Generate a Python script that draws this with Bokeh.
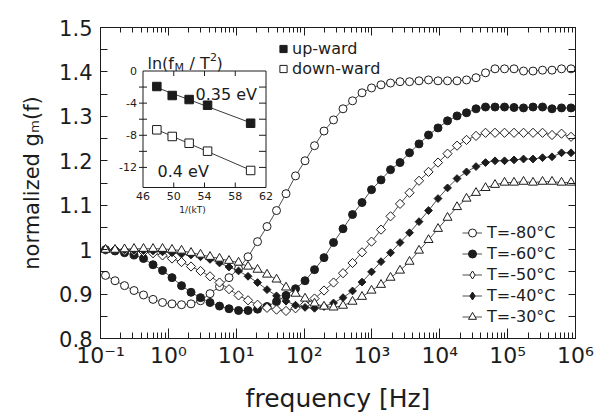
import numpy as np
from bokeh.plotting import figure
from bokeh.models import (Range1d, LinearAxis, LogAxis, LinearScale, FixedTicker, Legend, LegendItem,
                          Label, CustomJSTickFormatter)
from bokeh.embed import file_html
from bokeh.resources import INLINE
from bokeh.core.properties import value

# ---------------- data ----------------
freq_hz = np.logspace(-0.926, 5.934, 50)   # measurement sweep (log spaced)

gm_m80 = [0.942, 0.930, 0.919, 0.908, 0.898, 0.888, 0.881, 0.878, 0.876, 0.878,
          0.885, 0.901, 0.917, 0.937, 0.957, 0.984, 1.018, 1.052, 1.088, 1.126,
          1.166, 1.200, 1.234, 1.267, 1.292, 1.317, 1.335, 1.353, 1.364, 1.371,
          1.375, 1.378, 1.378, 1.380, 1.382, 1.380, 1.380, 1.380, 1.382, 1.387,
          1.398, 1.407, 1.407, 1.407, 1.402, 1.402, 1.404, 1.404, 1.407, 1.407]
gm_m60 = [1.000, 0.997, 0.993, 0.988, 0.980, 0.966, 0.953, 0.937, 0.919, 0.904,
          0.892, 0.881, 0.873, 0.867, 0.863, 0.863, 0.866, 0.872, 0.883, 0.897,
          0.912, 0.930, 0.955, 0.982, 1.016, 1.047, 1.079, 1.106, 1.135, 1.157,
          1.180, 1.196, 1.218, 1.238, 1.258, 1.274, 1.290, 1.301, 1.308, 1.317,
          1.321, 1.321, 1.321, 1.320, 1.319, 1.321, 1.321, 1.317, 1.319, 1.319]
gm_m50 = [1.000, 1.000, 0.998, 0.997, 0.995, 0.992, 0.987, 0.980, 0.972, 0.962,
          0.952, 0.940, 0.926, 0.911, 0.897, 0.886, 0.876, 0.869, 0.865, 0.862,
          0.868, 0.876, 0.890, 0.908, 0.926, 0.947, 0.970, 0.994, 1.018, 1.045,
          1.075, 1.103, 1.128, 1.155, 1.175, 1.196, 1.216, 1.234, 1.247, 1.256,
          1.263, 1.263, 1.263, 1.263, 1.263, 1.263, 1.263, 1.258, 1.261, 1.254]
gm_m40 = [1.000, 1.000, 1.000, 0.999, 0.998, 0.997, 0.995, 0.993, 0.990, 0.988,
          0.984, 0.978, 0.970, 0.961, 0.952, 0.940, 0.926, 0.910, 0.896, 0.884,
          0.875, 0.870, 0.868, 0.872, 0.880, 0.892, 0.907, 0.927, 0.950, 0.973,
          0.993, 1.016, 1.038, 1.063, 1.088, 1.115, 1.139, 1.160, 1.175, 1.187,
          1.196, 1.200, 1.200, 1.202, 1.204, 1.204, 1.207, 1.209, 1.218, 1.218]
gm_m30 = [1.000, 1.000, 1.001, 1.002, 1.002, 1.002, 1.002, 1.000, 0.998, 0.993,
          0.989, 0.984, 0.980, 0.975, 0.971, 0.962, 0.955, 0.944, 0.933, 0.915,
          0.901, 0.890, 0.879, 0.872, 0.870, 0.874, 0.883, 0.894, 0.908, 0.921,
          0.937, 0.953, 0.973, 0.998, 1.022, 1.047, 1.072, 1.096, 1.115, 1.128,
          1.139, 1.146, 1.151, 1.151, 1.153, 1.151, 1.153, 1.153, 1.151, 1.151]
temp_labels = ["T=-80°C", "T=-60°C", "T=-50°C", "T=-40°C", "T=-30°C"]

inv_kT = [47.8, 49.8, 52.0, 54.4, 60.0]
ln_up = [-1.93, -3.05, -3.55, -4.26, -6.50]
ln_down = [-7.32, -8.15, -8.99, -9.98, -12.38]
inset_legend = ["up-ward", "down-ward"]
energy_labels = ["0.35 eV", "0.4 eV"]

x_tick_values = [0.1, 1, 10, 100, 1000, 1e4, 1e5, 1e6]
x_tick_labels = ["10⁻¹", "10⁰", "10¹", "10²", "10³", "10⁴", "10⁵", "10⁶"]
y_tick_values = [0.8, 0.9, 1.0, 1.1, 1.2, 1.3, 1.4, 1.5]
y_tick_labels = ["0.8", "0.9", "1", "1.1", "1.2", "1.3", "1.4", "1.5"]
inset_x_ticks = [46, 50, 54, 58, 62]
inset_y_ticks = [0, -4, -8, -12]
inset_x_range = (46, 62)
inset_y_range = (-14.5, 0)

# ---------------- layout constants (pixels) ----------------
W, H = 600, 419
FL, FR, FT, FB = 100, 575, 27, 338          # main frame
IL, IR, IT, IB = 142.5, 265.5, 70.5, 187     # inset box
FONT = "DejaVu Sans"
INK = "#1c1c1c"

kx = (inset_x_range[1] - inset_x_range[0]) / (IR - IL)
ky = (inset_y_range[1] - inset_y_range[0]) / (IB - IT)
ins_x = Range1d(inset_x_range[0] - (IL - FL) * kx, inset_x_range[1] + (FR - IR) * kx)
ins_y = Range1d(inset_y_range[0] - (FB - IB) * ky, inset_y_range[1] + (IT - FT) * ky)


def ix(px):
    return inset_x_range[0] + (px - IL) * kx


def iy(py):
    return inset_y_range[1] - (py - IT) * ky


p = figure(width=W, height=H, x_axis_type="log",
           x_range=Range1d(0.1, 1e6), y_range=Range1d(0.8, 1.5),
           output_backend="svg", toolbar_location=None,
           min_border_left=FL, min_border_right=W - FR,
           min_border_top=FT, min_border_bottom=H - FB,
           x_axis_label="frequency [Hz]", y_axis_label="normalized gₘ(f)")
p.extra_x_ranges = {"ix": ins_x}
p.extra_y_ranges = {"iy": ins_y}
p.extra_x_scales = {"ix": LinearScale()}
p.extra_y_scales = {"iy": LinearScale()}
p.grid.visible = False
p.outline_line_color = INK
p.outline_line_width = 1
p.background_fill_color = "white"
p.border_fill_color = "white"

x_minor = [m * 10.0 ** e for e in range(-1, 6) for m in range(2, 10)]
x_ticker = FixedTicker(ticks=x_tick_values, minor_ticks=x_minor)
y_minor = [round(v + 0.05, 2) for v in y_tick_values[:-1]]
y_ticker = FixedTicker(ticks=y_tick_values, minor_ticks=y_minor)

xfmt = CustomJSTickFormatter(args=dict(vals=x_tick_values, labs=x_tick_labels), code="""
for (let i = 0; i < vals.length; i++) {
  if (Math.abs(Math.log10(tick) - Math.log10(vals[i])) < 1e-6) return labs[i];
}
return '';
""")
yfmt = CustomJSTickFormatter(args=dict(vals=y_tick_values, labs=y_tick_labels), code="""
for (let i = 0; i < vals.length; i++) {
  if (Math.abs(tick - vals[i]) < 1e-6) return labs[i];
}
return '';
""")


def style_axis(ax, show_labels):
    ax.axis_line_color = INK
    ax.major_tick_line_color = INK
    ax.minor_tick_line_color = INK
    ax.major_tick_out = 0
    ax.minor_tick_out = 0
    if not show_labels:
        ax.major_label_text_font_size = "8px"
        ax.major_label_text_alpha = 0
        ax.major_label_standoff = 0


xa = p.xaxis[0]
xa.ticker = x_ticker
xa.formatter = xfmt
style_axis(xa, True)
xa.major_tick_in = 10
xa.minor_tick_in = 6
xa.major_label_text_font = FONT
xa.major_label_text_font_size = "22px"
xa.major_label_text_color = INK
xa.major_label_standoff = 4
xa.axis_label_text_font = FONT
xa.axis_label_text_font_size = "25px"
xa.axis_label_text_font_style = "normal"
xa.axis_label_text_color = INK
xa.axis_label_standoff = 13

ya = p.yaxis[0]
ya.ticker = y_ticker
ya.formatter = yfmt
style_axis(ya, True)
ya.major_tick_in = 7
ya.minor_tick_in = 7
ya.major_label_text_font = FONT
ya.major_label_text_font_size = "21px"
ya.major_label_text_color = INK
ya.major_label_standoff = 8
ya.axis_label_text_font = FONT
ya.axis_label_text_font_size = "21px"
ya.axis_label_text_font_style = "normal"
ya.axis_label_text_color = INK
ya.axis_label_standoff = 12

top = LogAxis(ticker=x_ticker)
style_axis(top, False)
top.major_tick_in = 8
top.minor_tick_in = 5
p.add_layout(top, "above")
right = LinearAxis(ticker=y_ticker)
style_axis(right, False)
right.major_tick_in = 7
right.minor_tick_in = 7
p.add_layout(right, "right")

# ---------------- main curves ----------------
LINE = "#3a3a3a"
series = [gm_m80, gm_m60, gm_m50, gm_m40, gm_m30]
styles = [
    dict(marker="circle", size=8, fill_color="white", angle=0.0, key="circle"),
    dict(marker="circle", size=8, fill_color=INK, angle=0.0, key="circle"),
    dict(marker="square", size=6.5, fill_color="white", angle=np.pi / 4, key="diamond"),
    dict(marker="square", size=5.5, fill_color=INK, angle=np.pi / 4, key="diamond"),
    dict(marker="triangle", size=9, fill_color="white", angle=0.0, key="triangle"),
]
items = []
for ys, st, lab in zip(series, styles, temp_labels):
    ln = p.line(freq_hz, ys, line_color=LINE, line_width=0.9)
    key_r = None
    if st["key"] != st["marker"]:
        # legend keys are never rotated: a tiny diamond copy (hidden under the markers)
        # supplies the diamond shape for the legend
        key_r = p.scatter(freq_hz, ys, marker=st["key"], size=1, fill_color=st["fill_color"],
                          line_color=INK, line_width=1)
    sc = p.scatter(freq_hz, ys, marker=st["marker"], size=st["size"], angle=st["angle"],
                   fill_color=st["fill_color"], line_color=INK, line_width=1)
    items.append(LegendItem(label=lab, renderers=[ln, key_r if key_r is not None else sc]))

leg = Legend(items=items, location=(462 - FL, 11.5), orientation="vertical",
             glyph_width=20, glyph_height=21, label_height=21, spacing=0,
             label_standoff=5, padding=0, margin=0,
             border_line_color=None, background_fill_alpha=0,
             label_text_font=FONT, label_text_font_size="16px", label_text_color=INK)
p.add_layout(leg)

# ---------------- inset ----------------
p.quad(left=[inset_x_range[0]], right=[inset_x_range[1]],
       bottom=[inset_y_range[0]], top=[inset_y_range[1]],
       fill_color="white", line_color=INK, line_width=1,
       x_range_name="ix", y_range_name="iy")

# inset ticks
tx = inset_x_ticks[1:-1]
p.segment(x0=tx, y0=[inset_y_range[0]] * len(tx), x1=tx, y1=[inset_y_range[0] + 5 * ky] * len(tx),
          line_color=INK, x_range_name="ix", y_range_name="iy")
p.segment(x0=tx, y0=[inset_y_range[1]] * len(tx), x1=tx, y1=[inset_y_range[1] - 5 * ky] * len(tx),
          line_color=INK, x_range_name="ix", y_range_name="iy")
ty = [-2, -4, -6, -8, -10, -12]
p.segment(x0=[inset_x_range[0] - 4 * kx] * len(ty), y0=ty, x1=[inset_x_range[0] + 4 * kx] * len(ty), y1=ty,
          line_color=INK, x_range_name="ix", y_range_name="iy")
p.segment(x0=[inset_x_range[1]] * len(ty), y0=ty, x1=[inset_x_range[1] - 7 * kx] * len(ty), y1=ty,
          line_color=INK, x_range_name="ix", y_range_name="iy")

# inset tick labels
p.text(x=inset_x_ticks, y=[iy(IB + 4)] * len(inset_x_ticks), text=[str(v) for v in inset_x_ticks],
       text_font=value(FONT), text_font_size="11px", text_color=INK,
       text_align="center", text_baseline="top", x_range_name="ix", y_range_name="iy")
p.text(x=[ix(IL - 6)] * len(inset_y_ticks), y=inset_y_ticks, text=[str(v) for v in inset_y_ticks],
       text_font=value(FONT), text_font_size="11px", text_color=INK,
       text_align="right", text_baseline="middle", x_range_name="ix", y_range_name="iy")

# inset data + fitted lines
inv = np.array(inv_kT)
r_up = r_dn = None
for ys, fill in [(ln_up, INK), (ln_down, "white")]:
    c = np.polyfit(inv, ys, 1)
    xe = [float(inv[0]), float(inv[-1])]
    p.line(xe, [float(v) for v in np.polyval(c, xe)], line_color=LINE, line_width=1,
           x_range_name="ix", y_range_name="iy")
    r = p.scatter(inv_kT, ys, marker="square", size=8.5, fill_color=fill, line_color=INK,
                  x_range_name="ix", y_range_name="iy")
    if fill == INK:
        r_up = r
    else:
        r_dn = r

leg2 = Legend(items=[LegendItem(label=inset_legend[0], renderers=[r_up]),
                     LegendItem(label=inset_legend[1], renderers=[r_dn])],
              location=(274 - FL, 338 - 77.5), orientation="vertical",
              glyph_width=18, glyph_height=19, label_height=19, spacing=1,
              label_standoff=0, padding=0, margin=0,
              border_line_color=None, background_fill_alpha=0,
              label_text_font=FONT, label_text_font_size="16px", label_text_color=INK)
p.add_layout(leg2)


def lab(text, px, py, size, align="left"):
    p.add_layout(Label(x=ix(px), y=iy(py), text=text, x_range_name="ix", y_range_name="iy",
                       text_font=FONT, text_font_size=size, text_color=INK,
                       text_align=align, text_baseline="alphabetic"))


lab(energy_labels[0], 195, 94, "16px")
lab(energy_labels[1], 157, 171, "16px")
# inset title ln(f_M / T^2)
lab("ln(f", 147, 63, "16px")
lab("M", 174, 67, "11px")
lab("/ T", 189, 63, "16px")
lab("2", 209.5, 56, "11px")
lab(")", 216, 63, "16px")
lab("1/(kT)", 192, 209, "9px", align="center")

open("out.html", "w").write(file_html(p, INLINE))
